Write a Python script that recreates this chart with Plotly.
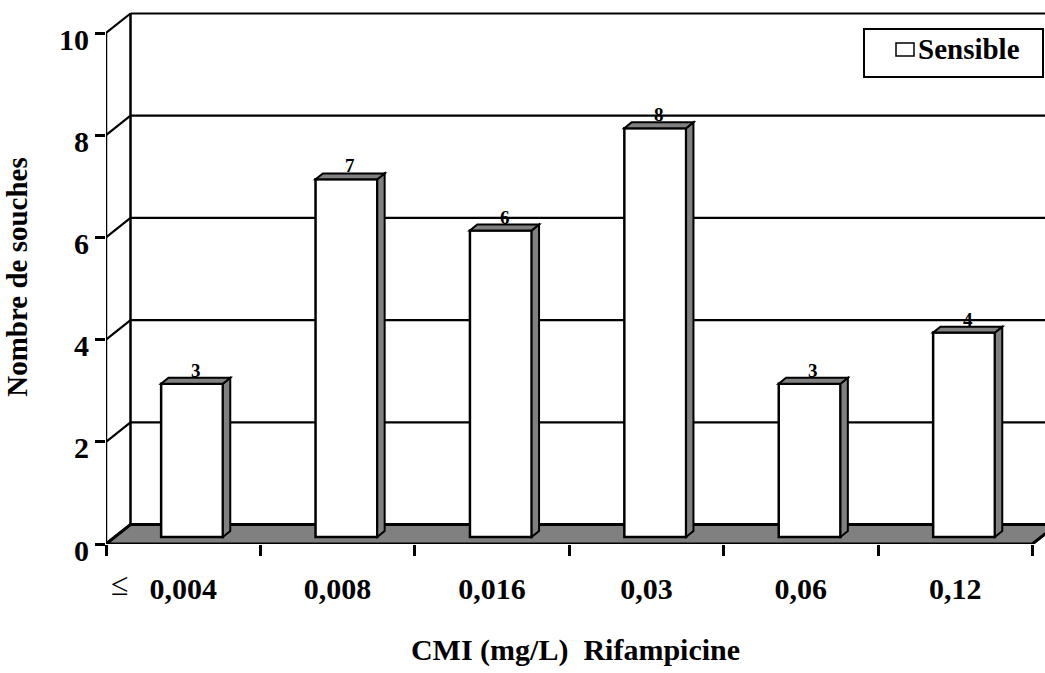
import plotly.graph_objects as go

# MIC classes (mg/L) and number of susceptible strains in each class
categories = ["0,004", "0,008", "0,016", "0,03", "0,06", "0,12"]
strains = [3, 7, 6, 8, 3, 4]
y_ticks = [0, 2, 4, 6, 8, 10]
series_name = "Sensible"

# ---- page and plot-area geometry (pixels) ----
W, H = 1045, 673
ML, MR, MT, MB = 106, 0, 10, 129
PW, PH = W - ML - MR, H - MT - MB
CAT_PX = 154.4            # width of one category on the front plane
UNIT_PX = 51.1            # height of one unit on the front plane
WALL_DX, WALL_DY = 24.5, 19.5   # depth offset of the back wall
BAR_D0, BAR_D1 = 0.36, 0.66     # bar depth (fraction of the wall depth)
BAR_W = 0.4

FONT = "Liberation Serif, Times New Roman, serif"
GREY = "#808080"

x_range = [-0.5, -0.5 + PW / CAT_PX]
y_range = [0, PH / UNIT_PX]

# depth offsets converted to data units
wall_dx, wall_dy = WALL_DX / CAT_PX, WALL_DY / UNIT_PX
bar_sx, bar_sy = BAR_D0 * wall_dx, BAR_D0 * wall_dy
side_dx = (BAR_D1 - BAR_D0) * wall_dx
side_dy = (BAR_D1 - BAR_D0) * wall_dy


def px_x(px):
    return (px - ML) / PW


def px_y(py):
    return (H - MB - py) / PH


fig = go.Figure()

# front faces of the bars, drawn on a plane shifted into the depth
fig.add_trace(go.Bar(
    x=categories, y=strains, width=BAR_W,
    name=series_name, showlegend=False,
    marker=dict(color="white", line=dict(color="black", width=2.5)),
    xaxis="x2", yaxis="y2", hoverinfo="x+y",
))

shapes = []
n = len(categories)
x_left, x_right = -0.5, n - 0.5

# floor
shapes.append(dict(
    type="path", xref="x", yref="y", layer="below",
    path=(f"M{x_left},0 L{x_right},0 L{x_right + wall_dx},{wall_dy} "
          f"L{x_left + wall_dx},{wall_dy} Z"),
    fillcolor=GREY, line=dict(color="black", width=3),
))

# back wall: left edge, gridlines and side-wall diagonals
top = max(y_ticks)
shapes.append(dict(type="line", xref="x", yref="y", layer="below",
                   x0=x_left + wall_dx, x1=x_left + wall_dx,
                   y0=wall_dy, y1=top + wall_dy,
                   line=dict(color="black", width=2.5)))
for v in y_ticks:
    if v > 0:
        shapes.append(dict(type="line", xref="x", yref="y", layer="below",
                           x0=x_left + wall_dx, x1=x_range[1] + 1,
                           y0=v + wall_dy, y1=v + wall_dy,
                           line=dict(color="black", width=2.2)))
    shapes.append(dict(type="line", xref="x", yref="y", layer="below",
                       x0=x_left, x1=x_left + wall_dx,
                       y0=v, y1=v + wall_dy,
                       line=dict(color="black", width=2.2)))

# front value axis
shapes.append(dict(type="line", xref="x", yref="y", layer="above",
                   x0=x_left, x1=x_left, y0=0, y1=top,
                   line=dict(color="black", width=2.5)))

# side and top faces of each bar
for i, v in enumerate(strains):
    x0, x1 = i - BAR_W / 2, i + BAR_W / 2
    shapes.append(dict(
        type="path", xref="x2", yref="y2", layer="above",
        path=(f"M{x1},0 L{x1},{v} L{x1 + side_dx},{v + side_dy} "
              f"L{x1 + side_dx},{side_dy} Z"),
        fillcolor=GREY, line=dict(color="black", width=2),
    ))
    shapes.append(dict(
        type="path", xref="x2", yref="y2", layer="above",
        path=(f"M{x0},{v} L{x1},{v} L{x1 + side_dx},{v + side_dy} "
              f"L{x0 + side_dx},{v + side_dy} Z"),
        fillcolor=GREY, line=dict(color="black", width=2),
    ))

# legend box and key
shapes.append(dict(type="rect", xref="paper", yref="paper",
                   x0=px_x(864), x1=px_x(1043), y0=px_y(77), y1=px_y(29),
                   fillcolor="white", line=dict(color="black", width=2)))
shapes.append(dict(type="rect", xref="paper", yref="paper",
                   x0=px_x(896), x1=px_x(914), y0=px_y(56), y1=px_y(43),
                   fillcolor="white", line=dict(color="black", width=1.5)))

annotations = []
# value labels above each bar
for i, v in enumerate(strains):
    annotations.append(dict(
        xref="x2", yref="y2", x=i + side_dx / 2, y=v + side_dy,
        text=str(v), showarrow=False, yanchor="bottom", yshift=-5,
        font=dict(family=FONT, size=19, color="black", weight=700),
    ))
annotations.append(dict(
    xref="paper", yref="paper", x=px_x(916), y=px_y(49),
    xanchor="left", yanchor="middle", text=series_name, showarrow=False,
    font=dict(family=FONT, size=29, color="black", weight=700),
))
# "less than or equal" prefix of the first class
annotations.append(dict(
    xref="paper", yref="paper", x=px_x(120), y=px_y(584),
    xanchor="center", yanchor="middle", text="≤", showarrow=False,
    font=dict(family=FONT, size=32, color="black"),
))

fig.update_layout(
    width=W, height=H,
    margin=dict(l=ML, r=MR, t=MT, b=MB, autoexpand=False),
    paper_bgcolor="white", plot_bgcolor="white",
    showlegend=False,
    shapes=shapes, annotations=annotations,
    xaxis=dict(
        type="category", categoryorder="array", categoryarray=categories,
        range=x_range, tickson="boundaries",
        ticks="outside", ticklen=11, tickwidth=2.5, tickcolor="black",
        showgrid=False, zeroline=False, showline=False,
        tickfont=dict(family=FONT, size=30, color="black", weight=700),
        ticklabelstandoff=24,
        title=dict(text="CMI (mg/L)  Rifampicine", standoff=34,
                   font=dict(family=FONT, size=30, color="black", weight=700)),
    ),
    yaxis=dict(
        range=y_range, tickvals=y_ticks,
        ticks="outside", ticklen=10, tickwidth=2.5, tickcolor="black",
        showgrid=False, zeroline=False, showline=False,
        ticklabelshift=6,
        tickfont=dict(family=FONT, size=30, color="black", weight=700),
        title=dict(text="Nombre de souches", standoff=22,
                   font=dict(family=FONT, size=29, color="black", weight=700)),
    ),
    xaxis2=dict(
        type="category", categoryorder="array", categoryarray=categories,
        overlaying="x", anchor="y2",
        range=[x_range[0] - bar_sx, x_range[1] - bar_sx], visible=False,
    ),
    yaxis2=dict(
        overlaying="y", anchor="x2",
        range=[y_range[0] - bar_sy, y_range[1] - bar_sy], visible=False,
    ),
)

fig.write_html("out.html")
